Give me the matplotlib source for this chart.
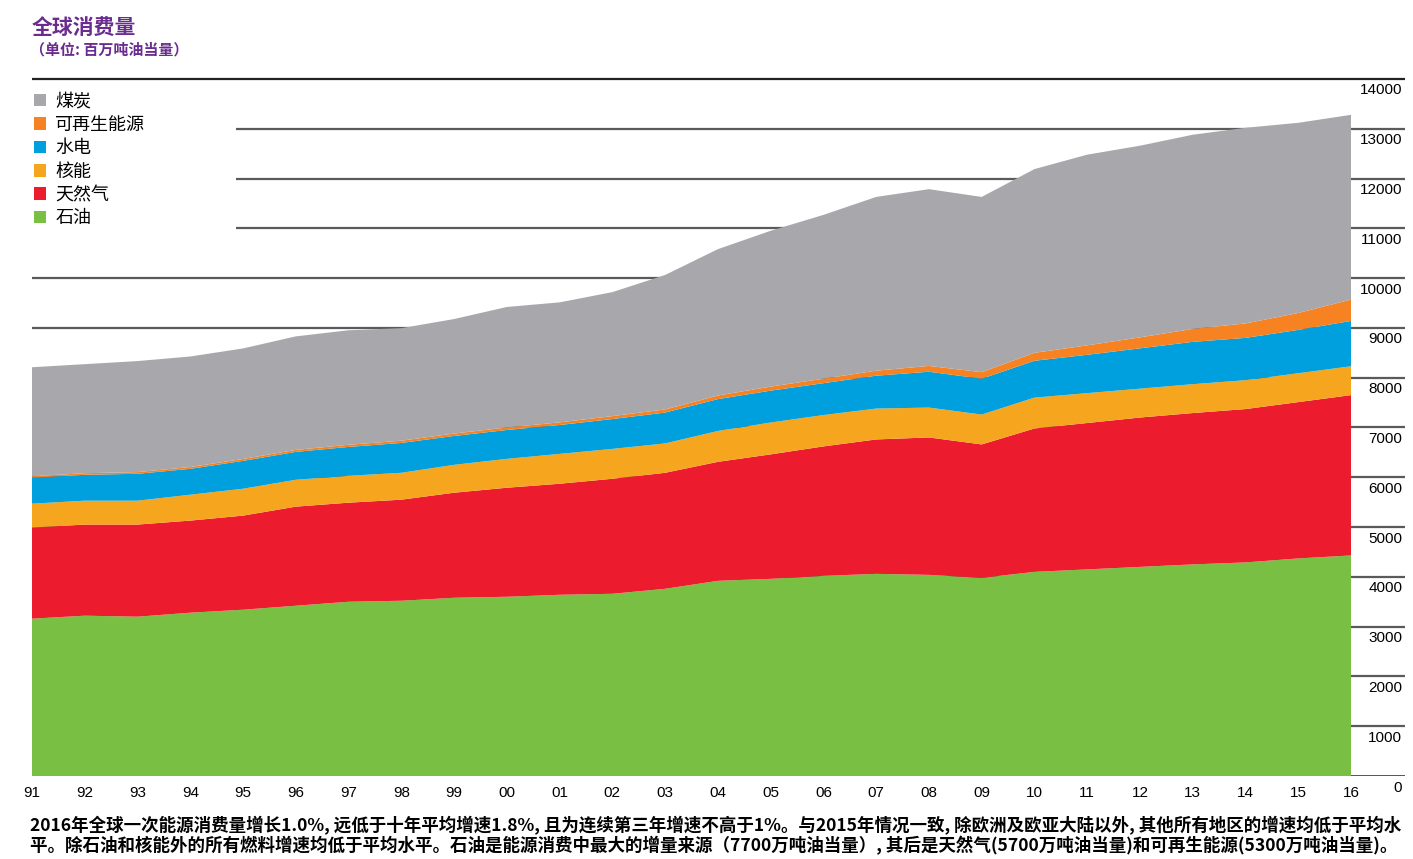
import numpy as np
import matplotlib.pyplot as plt
from matplotlib.patches import Patch, Rectangle
from matplotlib.transforms import ScaledTranslation

plt.rcParams['font.family'] = ['Liberation Sans', 'Noto Sans CJK SC', 'DejaVu Sans']
cjk = ['Noto Sans CJK SC', 'DejaVu Sans']

years = ['91', '92', '93', '94', '95', '96', '97', '98', '99', '00', '01', '02', '03',
         '04', '05', '06', '07', '08', '09', '10', '11', '12', '13', '14', '15', '16']

# million tonnes oil equivalent
oil = [3160, 3220, 3200, 3280, 3340, 3420, 3500, 3520, 3580, 3600, 3640, 3660, 3760,
       3920, 3960, 4020, 4060, 4040, 3980, 4100, 4150, 4200, 4250, 4290, 4370, 4430]
gas = [1830, 1830, 1850, 1850, 1890, 1990, 1990, 2030, 2110, 2190, 2230, 2310, 2330,
       2390, 2500, 2600, 2700, 2760, 2680, 2880, 2940, 3000, 3040, 3080, 3140, 3220]
nuclear = [480, 480, 480, 520, 540, 540, 540, 540, 560, 580, 600, 600, 590,
           620, 640, 630, 620, 600, 600, 620, 600, 580, 580, 580, 580, 580]
hydro = [520, 520, 540, 520, 560, 560, 580, 600, 580, 580, 580, 600, 620,
         640, 640, 640, 660, 720, 720, 740, 770, 810, 850, 850, 870, 910]
renew = [30, 32, 34, 36, 38, 40, 43, 45, 48, 51, 53, 59, 63,
         72, 81, 90, 101, 117, 131, 160, 190, 220, 260, 290, 340, 430]
coal = [2190, 2190, 2230, 2220, 2220, 2280, 2300, 2260, 2300, 2420, 2410, 2490, 2700,
        2940, 3130, 3290, 3490, 3550, 3520, 3690, 3830, 3850, 3900, 3930, 3820, 3710]

labels = ['石油', '天然气', '核能', '水电', '可再生能源', '煤炭']
colors = ['#79bf43', '#ed1b2e', '#f6a61e', '#00a0de', '#f78221', '#a8a7ac']

yticks = list(range(0, 14001, 1000))

fig = plt.figure(figsize=(14.13, 8.59), dpi=100)
ax = fig.add_axes([32 / 1413, 83 / 859, (1405 - 32) / 1413, 700 / 859])

x = np.arange(len(years))
ax.stackplot(x, oil, gas, nuclear, hydro, renew, coal, colors=colors, zorder=2, lw=0)

ax.set_xlim(0, (1405 - 32) / ((1351 - 32) / 25))
ax.set_ylim(0, 14060)

for v in yticks[1:-1]:
    ax.axhline(v, color='#5a5a5a', lw=1.6, zorder=1)
ax.axhline(14000, color='#222222', lw=1.6, zorder=1)
ax.axhline(0, color='#222222', lw=1.8, zorder=1)

# white block behind the legend hides the grid lines there
ax.add_patch(Rectangle((-0.5, 10880), 4.37, 3020, facecolor='white', edgecolor='none',
                       zorder=1.5, clip_on=False))

for s in ax.spines.values():
    s.set_visible(False)

ax.yaxis.tick_right()
ax.set_yticks(yticks)
ax.set_yticklabels([str(v) for v in yticks])
ax.tick_params(axis='y', length=0, pad=-2, labelsize=11)
off = ScaledTranslation(0, -10 / 100, fig.dpi_scale_trans)
for t in ax.get_yticklabels():
    t.set_horizontalalignment('right')
    t.set_transform(t.get_transform() + off)

ax.set_xticks(x)
ax.set_xticklabels(years)
ax.tick_params(axis='x', length=0, pad=7, labelsize=11)

# legend, top to bottom: coal first
handles = [Patch(facecolor=c, edgecolor='none') for c in colors[::-1]]
leg = ax.legend(handles, labels[::-1], loc='upper left', bbox_to_anchor=(-0.004, 0.987),
                frameon=False, handlelength=0.7, handleheight=0.7, handletextpad=0.5,
                labelspacing=0.3, prop={'family': cjk, 'size': 13}, borderaxespad=0)
leg.set_zorder(3)

fig.text(32 / 1413, 1 - 27 / 859, '全球消费量', family=cjk, fontsize=15, weight='bold',
         color='#6a2c8e', va='center')
fig.text(30 / 1413, 1 - 50 / 859, '（单位: 百万吨油当量）', family=cjk, fontsize=10.8,
         weight='bold', color='#6a2c8e', va='center')

note1 = ('2016年全球一次能源消费量增长1.0%, 远低于十年平均增速1.8%, 且为连续第三年增速不高于1%。'
         '与2015年情况一致, 除欧洲及欧亚大陆以外, 其他所有地区的增速均低于平均水')
note2 = ('平。除石油和核能外的所有燃料增速均低于平均水平。石油是能源消费中最大的增量来源（7700万吨油当量）, '
         '其后是天然气(5700万吨油当量)和可再生能源(5300万吨油当量)。')
fig.text(30 / 1413, 1 - 826 / 859, note1, family=cjk, fontsize=12.6, weight='bold', va='center')
fig.text(30 / 1413, 1 - 846 / 859, note2, family=cjk, fontsize=12.6, weight='bold', va='center')

fig.savefig('out.png', dpi=100)
